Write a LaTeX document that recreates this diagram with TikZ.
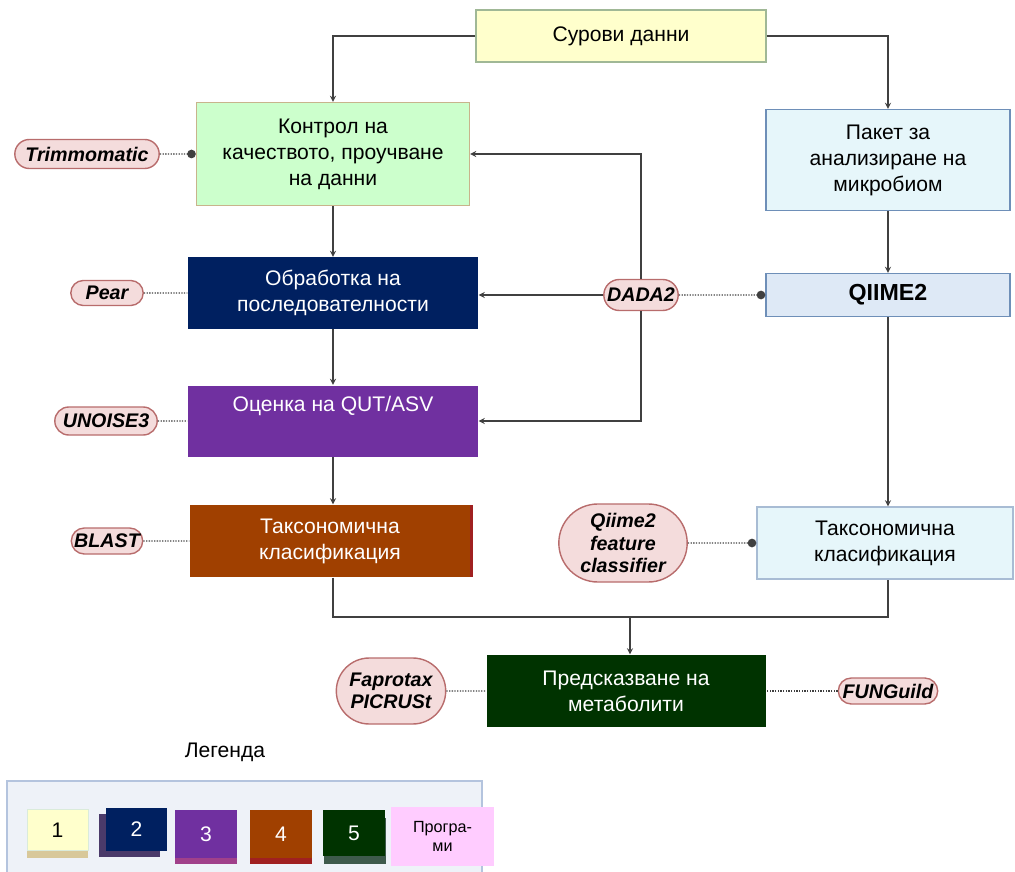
\documentclass[tikz,border=0pt]{standalone}
\usepackage{fontspec}
\setmainfont{Liberation Sans}
\usepackage{tikz}
\usetikzlibrary{arrows,shapes,positioning,shadows}
\usepackage{xcolor}
\definecolor{rawyellow}{RGB}{255,255,204}
\definecolor{rawline}{RGB}{160,184,150}
\definecolor{qcgreen}{RGB}{204,255,204}
\definecolor{qcline}{RGB}{200,180,140}
\definecolor{qilight}{RGB}{230,246,250}
\definecolor{qiblue}{RGB}{110,143,184}
\definecolor{qiimefill}{RGB}{222,233,246}
\definecolor{seqnavy}{RGB}{0,32,96}
\definecolor{otupurple}{RGB}{112,48,160}
\definecolor{taxbrown}{RGB}{160,64,0}
\definecolor{taxred}{RGB}{160,32,32}
\definecolor{preddark}{RGB}{0,51,0}
\definecolor{progpink}{RGB}{244,220,220}
\definecolor{progline}{RGB}{184,108,108}
\definecolor{linegray}{RGB}{64,64,64}
\definecolor{legbg}{RGB}{238,242,248}
\definecolor{legline}{RGB}{180,196,222}
\definecolor{legtan}{RGB}{216,200,154}
\definecolor{legnavy}{RGB}{74,58,106}
\definecolor{legpinkband}{RGB}{160,64,138}
\definecolor{leggreen}{RGB}{62,90,76}
\definecolor{legprog}{RGB}{255,204,255}
\tikzstyle{stepbox} = [rectangle, text centered, align=center, font=\fontsize{15}{18.5}\selectfont, line width=1pt]
\tikzstyle{lightbox} = [stepbox, draw=qiblue, fill=qilight]
\tikzstyle{darkbox} = [stepbox, text=white]
\tikzstyle{program} = [rounded rectangle, draw=progline, fill=progpink, line width=1pt, font=\fontsize{14}{16}\selectfont\bfseries\itshape, align=center, inner sep=2pt]
\tikzstyle{arrow} = [line width=0.9pt, ->, >=stealth, color=linegray]
\tikzstyle{wire} = [line width=0.9pt, color=linegray]
\tikzstyle{link} = [line width=0.9pt, densely dotted, color=linegray]
\tikzstyle{legbox} = [rectangle, minimum width=1.55cm, minimum height=1.2cm, font=\fontsize{15}{18}\selectfont]

\begin{document}
\begin{tikzpicture}[node distance=3.2cm]
\useasboundingbox (0,0) rectangle (25.375,-21.8);
% Main steps
\node (raw) [stepbox, draw=rawline, fill=rawyellow, minimum width=7.25cm, minimum height=1.3cm] at (15.525,-0.9) {Сурови данни};
\node (qc) [stepbox, draw=qcline, fill=qcgreen, minimum width=6.825cm, minimum height=2.575cm] at (8.325,-3.85) {Контрол на\\качеството, проучване\\на данни};
\node (seq) [darkbox, below of=qc, yshift=-0.275cm, fill=seqnavy, minimum width=7.25cm, minimum height=1.775cm] {Обработка на\\последователности};
\node (otu) [darkbox, below of=seq, fill=otupurple, minimum width=7.25cm, minimum height=1.775cm] {Оценка на QUT/ASV\\\strut};
\node (taxL) [darkbox, below of=otu, yshift=0.2cm, xshift=-0.075cm, fill=taxbrown, minimum width=7cm, minimum height=1.8cm,
  drop shadow={shadow xshift=0.075cm, shadow yshift=0cm, fill=taxred, opacity=1}] {Таксономична\\класификация};
\node (pkg) [lightbox, minimum width=6.1cm, minimum height=2.525cm] at (22.2,-4.0) {Пакет за\\анализиране на\\микробиом};
\node (qiime) [lightbox, below of=pkg, yshift=-0.175cm, fill=qiimefill, minimum width=6.1cm, minimum height=1.075cm, font=\fontsize{16.5}{19}\selectfont\bfseries] {QIIME2};
\node (taxR) [lightbox, below of=qiime, yshift=-3cm, xshift=-0.075cm, draw=qiblue!60, minimum width=6.4cm, minimum height=1.8cm] {Таксономична\\класификация};
\node (pred) [darkbox, fill=preddark, minimum width=6.975cm, minimum height=1.8cm] at (15.65,-17.275) {Предсказване на\\метаболити};

% Programs
\node (trim) [program, left of=qc, xshift=-2.95cm, minimum width=3.75cm, minimum height=0.725cm] {Trimmomatic};
\node (pear) [program, left of=seq, xshift=-2.45cm, minimum width=1.95cm, minimum height=0.625cm] {Pear};
\node (unoise) [program, left of=otu, xshift=-2.475cm, minimum width=2.7cm, minimum height=0.7cm] {UNOISE3};
\node (blast) [program, left of=taxL, xshift=-2.375cm, minimum width=1.925cm, minimum height=0.65cm] {BLAST};
\node (dada) [program, left of=qiime, xshift=-2.975cm, minimum width=2cm, minimum height=0.775cm] {DADA2};
\node (qfc) [program, left of=taxR, xshift=-3.35cm, minimum width=3.35cm, minimum height=1.95cm] {Qiime2\\feature\\classifier};
\node (fapro) [program, left of=pred, xshift=-2.675cm, minimum width=2.875cm, minimum height=1.65cm] {Faprotax\\PICRUSt};
\node (fung) [program, right of=pred, xshift=3.35cm, minimum width=2.625cm, minimum height=0.65cm] {FUNGuild};

% Arrows
\draw[arrow] (raw.west) -| (qc.north);
\draw[arrow] (raw.east) -| (pkg.north);
\draw[arrow] (qc) -- (seq);
\draw[arrow] (seq) -- (otu);
\draw[arrow] (otu.south) -- (otu.south |- taxL.north);
\draw[arrow] (pkg) -- (qiime);
\draw[arrow] (qiime.south) -- (qiime.south |- taxR.north);
\draw[arrow] (dada.north) |- (qc.east);
\draw[arrow] (dada.west) -- (seq.east |- dada.west);
\draw[arrow] (dada.south) |- (otu.east);
\coordinate (join) at (15.75,-15.425);
\draw[wire] (otu.south |- taxL.south) |- (join) -| (qiime.south |- taxR.south);
\draw[arrow] (join) -- (join |- pred.north);

% Program links
\draw[link, -*] (trim) -- (qc);
\draw[link] (pear) -- (seq);
\draw[link] (unoise) -- (otu);
\draw[link] (blast) -- (taxL);
\draw[link, -*] (dada) -- (qiime);
\draw[link, -*] (qfc) -- (taxR);
\draw[link] (fapro) -- (pred);
\draw[link] (fung) -- (pred);

% Legend
\node (legtitle) [font=\fontsize{15}{18}\selectfont] at (5.625,-18.8) {Легенда};
\fill[legbg] (0.175,-19.525) rectangle (12.05,-21.8);
\draw[legline, line width=1pt] (0.175,-21.8) |- (12.05,-19.525) -- (12.05,-21.8);
\node (leg1) [legbox, draw=qcgreen!80!black!40, fill=rawyellow, minimum width=1.525cm, minimum height=1.025cm,
  drop shadow={shadow xshift=0cm, shadow yshift=-0.175cm, fill=legtan, opacity=1}] at (1.4375,-20.75) {1};
\node (leg2) [legbox, fill=seqnavy, text=white, minimum width=1.525cm, minimum height=1.075cm,
  drop shadow={shadow xshift=-0.175cm, shadow yshift=-0.15cm, fill=legnavy, opacity=1}] at (3.4125,-20.74) {2};
\node (leg3) [legbox, fill=otupurple, text=white,
  drop shadow={shadow xshift=0cm, shadow yshift=-0.15cm, fill=legpinkband, opacity=1}] at (5.15,-20.85) {3};
\node (leg4) [legbox, fill=taxbrown, text=white,
  drop shadow={shadow xshift=0cm, shadow yshift=-0.15cm, fill=taxred, opacity=1}] at (7.025,-20.85) {4};
\node (leg5) [legbox, fill=preddark, text=white, minimum height=1.15cm,
  drop shadow={shadow xshift=0.025cm, shadow yshift=-0.2cm, fill=leggreen, opacity=1}] at (8.85,-20.825) {5};
\node (legprog) [legbox, fill=legprog, align=center, minimum width=2.575cm, minimum height=1.475cm, font=\fontsize{11.5}{14}\selectfont] at (11.0625,-20.9125) {Програ-\\ми};
\end{tikzpicture}
\end{document}
